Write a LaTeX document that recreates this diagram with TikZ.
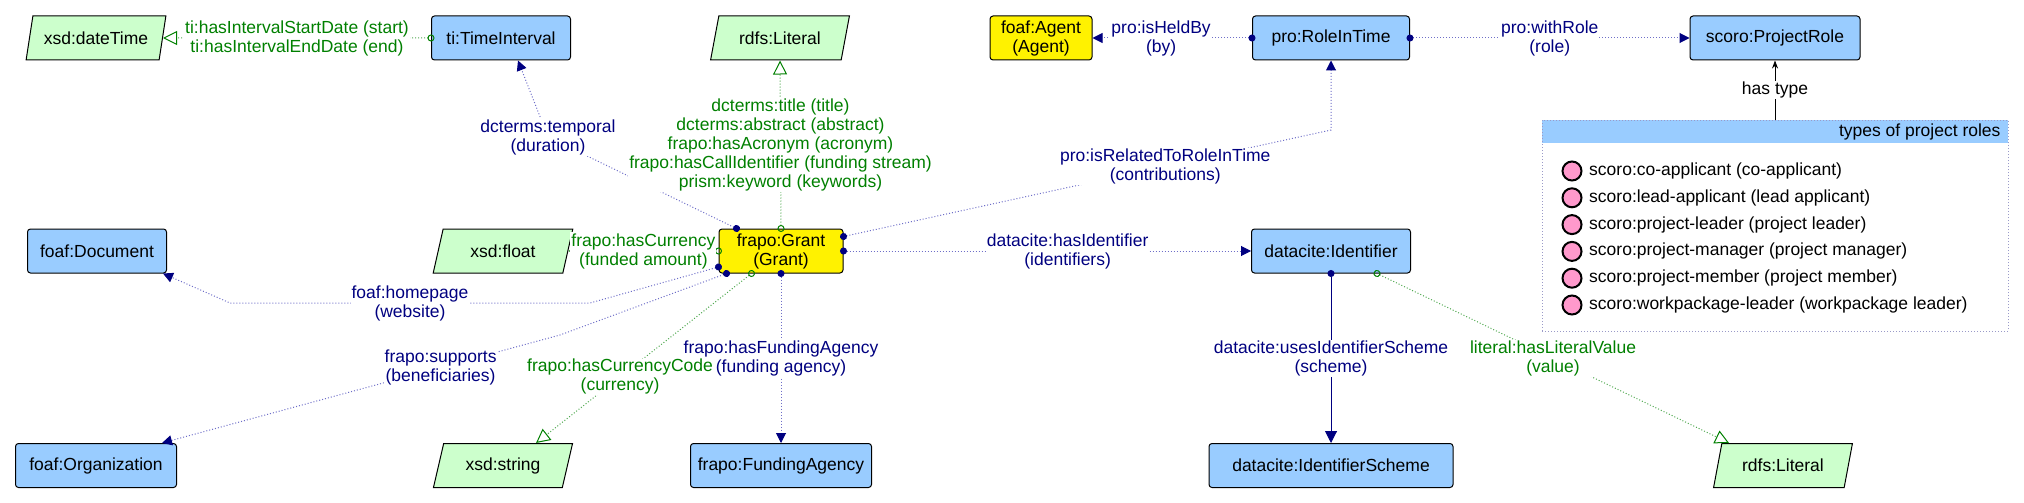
\documentclass[tikz,border=0pt]{standalone}
\usepackage{fontspec}
\setmainfont{Liberation Sans}
\usetikzlibrary{arrows.meta,shapes.geometric}
\definecolor{clsblue}{HTML}{99CCFF}
\definecolor{litgreen}{HTML}{CCFFCC}
\definecolor{objnavy}{HTML}{000080}
\definecolor{objline}{HTML}{6E6EC8}
\definecolor{dtgreen}{HTML}{008000}
\definecolor{dtline}{HTML}{4FA84F}
\definecolor{boxline}{HTML}{9A9AC8}
\definecolor{rolepink}{HTML}{FF99CC}

\begin{document}
\begin{tikzpicture}[x=1pt, y=-1pt, font=\fontsize{17.5}{19}\selectfont,
    cls/.style={draw, line width=1, rounded corners=3, fill=clsblue, minimum height=44, align=center},
    lit/.style={draw, line width=1, trapezium, trapezium left angle=73, trapezium right angle=107,
        trapezium stretches=true, fill=litgreen, minimum height=44, minimum width=140},
    olbl/.style={fill=white, text=objnavy, align=center, inner sep=1},
    dlbl/.style={fill=white, text=dtgreen, align=center, inner sep=1},
    objprop/.style={draw=objline, line width=1, dash pattern=on 1pt off 2pt, shorten <=-3.5,
        {Circle[length=7,width=7,color=objnavy,fill=objnavy]}-{Triangle[length=10,width=10,color=objnavy,fill=objnavy]}},
    dtprop/.style={draw=dtline, line width=1, dash pattern=on 1pt off 2pt, shorten <=-3.5,
        {Circle[open,length=7,width=7,color=dtgreen]}-{Triangle[open,length=14,width=14,color=dtgreen]}}]
    \useasboundingbox (0,0) rectangle (2024,503);

    % top row
    \node[lit] (datetime) at (96,38) {xsd:dateTime};
    \node[cls, minimum width=139] (interval) at (501,38) {ti:TimeInterval};
    \node[lit] (littop) at (780,38) {rdfs:Literal};
    \node[cls, fill=yellow, minimum width=102] (agent) at (1041,38) {foaf:Agent\\(Agent)};
    \node[cls, minimum width=157] (roleintime) at (1331,38) {pro:RoleInTime};
    \node[cls, minimum width=170] (projrole) at (1775,38) {scoro:ProjectRole};

    % middle row
    \node[cls, minimum width=139] (document) at (97,251) {foaf:Document};
    \node[lit] (float) at (503,251) {xsd:float};
    \node[cls, fill=yellow, minimum width=124] (grant) at (781,251) {frapo:Grant\\(Grant)};
    \node[cls, minimum width=159] (ident) at (1331,251) {datacite:Identifier};

    % bottom row
    \node[cls, minimum width=161] (org) at (96,465.5) {foaf:Organization};
    \node[lit] (string) at (503,465.5) {xsd:string};
    \node[cls, minimum width=181] (agency) at (781,465.5) {frapo:FundingAgency};
    \node[cls, minimum width=244] (scheme) at (1331,465.5) {datacite:IdentifierScheme};
    \node[lit] (litbot) at (1783,465.5) {rdfs:Literal};

    % types of project roles
    \fill[clsblue] (1542,120) rectangle (2008,143);
    \node[draw=boxline, dash pattern=on 1pt off 2pt, minimum width=466, minimum height=211, inner sep=0] (types) at (1775,225.5) {};
    \node[anchor=east] (typeshead) at (2004,132) {types of project roles};
    \foreach \role [count=\i] in {co-applicant (co-applicant), lead-applicant (lead applicant),
        project-leader (project leader), project-manager (project manager),
        project-member (project member), workpackage-leader (workpackage leader)}
    {
        \node[circle, draw, line width=2, fill=rolepink, minimum size=19, inner sep=0] (roledot\i) at (1572,144.2+26.8*\i) {};
        \node[anchor=west, inner sep=0] (roleitem\i) at (1589,144.2+26.8*\i) {scoro:\role};
    }

    % bend points
    \coordinate (tempbend) at (548,137);
    \coordinate (relbend) at (1331,130);
    \coordinate (homeA) at (590,303);
    \coordinate (homeB) at (230,303);
    \coordinate (suppbend) at (560,335);

    % connectors
    \draw[dtprop] (interval.west) -- node[dlbl]{ti:hasIntervalStartDate (start)\\ti:hasIntervalEndDate (end)} (datetime.east);
    \draw[objprop] ([xshift=18]grant.north west) -- (tempbend) node[olbl]{dcterms:temporal\\(duration)} -- ([xshift=17]interval.south);
    \draw[dtprop] (grant.north) -- node[dlbl]{dcterms:title (title)\\dcterms:abstract (abstract)\\frapo:hasAcronym (acronym)\\frapo:hasCallIdentifier (funding stream)\\prism:keyword (keywords)} (littop.south);
    \draw[objprop] (roleintime.west) -- node[olbl, pos=0.57]{pro:isHeldBy\\(by)} (agent.east);
    \draw[objprop] (roleintime.east) -- node[olbl]{pro:withRole\\(role)} (projrole.west);
    \draw[line width=0.8, -{Stealth[length=8,width=6]}] (types.north) -- node[fill=white, inner sep=1]{has type} (projrole.south);
    \draw[objprop] ([yshift=-8]grant.north east) -- node[olbl, pos=0.66]{pro:isRelatedToRoleInTime\\(contributions)} (relbend) -- (roleintime.south);
    \draw[objprop] (grant.east) -- node[olbl, pos=0.55]{datacite:hasIdentifier\\(identifiers)} (ident.west);
    \draw[dtprop] (grant.west) -- node[dlbl]{frapo:hasCurrency\\(funded amount)} (float.east);
    \draw[objprop] ([yshift=-16]grant.west) -- (homeA) -- node[olbl]{foaf:homepage\\(website)} (homeB) -- ([xshift=-4]document.south east);
    \draw[objprop] ([xshift=8]grant.south west) -- (suppbend) -- node[olbl, pos=0.3]{frapo:supports\\(beneficiaries)} ([xshift=-15]org.north east);
    \draw[objprop] (grant.south) -- node[olbl]{frapo:hasFundingAgency\\(funding agency)} (agency.north);
    \draw[dtprop] ([xshift=33]grant.south west) -- node[dlbl, pos=0.61, inner sep=0]{frapo:hasCurrencyCode\\(currency)} ([xshift=33]string.north);
    \draw[draw=objnavy, line width=1, shorten <=-3.5, {Circle[length=7,width=7]}-{Triangle[length=12,width=12]}] (ident.south) -- node[olbl]{datacite:usesIdentifierScheme\\(scheme)} (scheme.north);
    \draw[dtprop] ([xshift=46]ident.south) -- node[dlbl]{literal:hasLiteralValue\\(value)} ([xshift=-54]litbot.north);
\end{tikzpicture}
\end{document}
